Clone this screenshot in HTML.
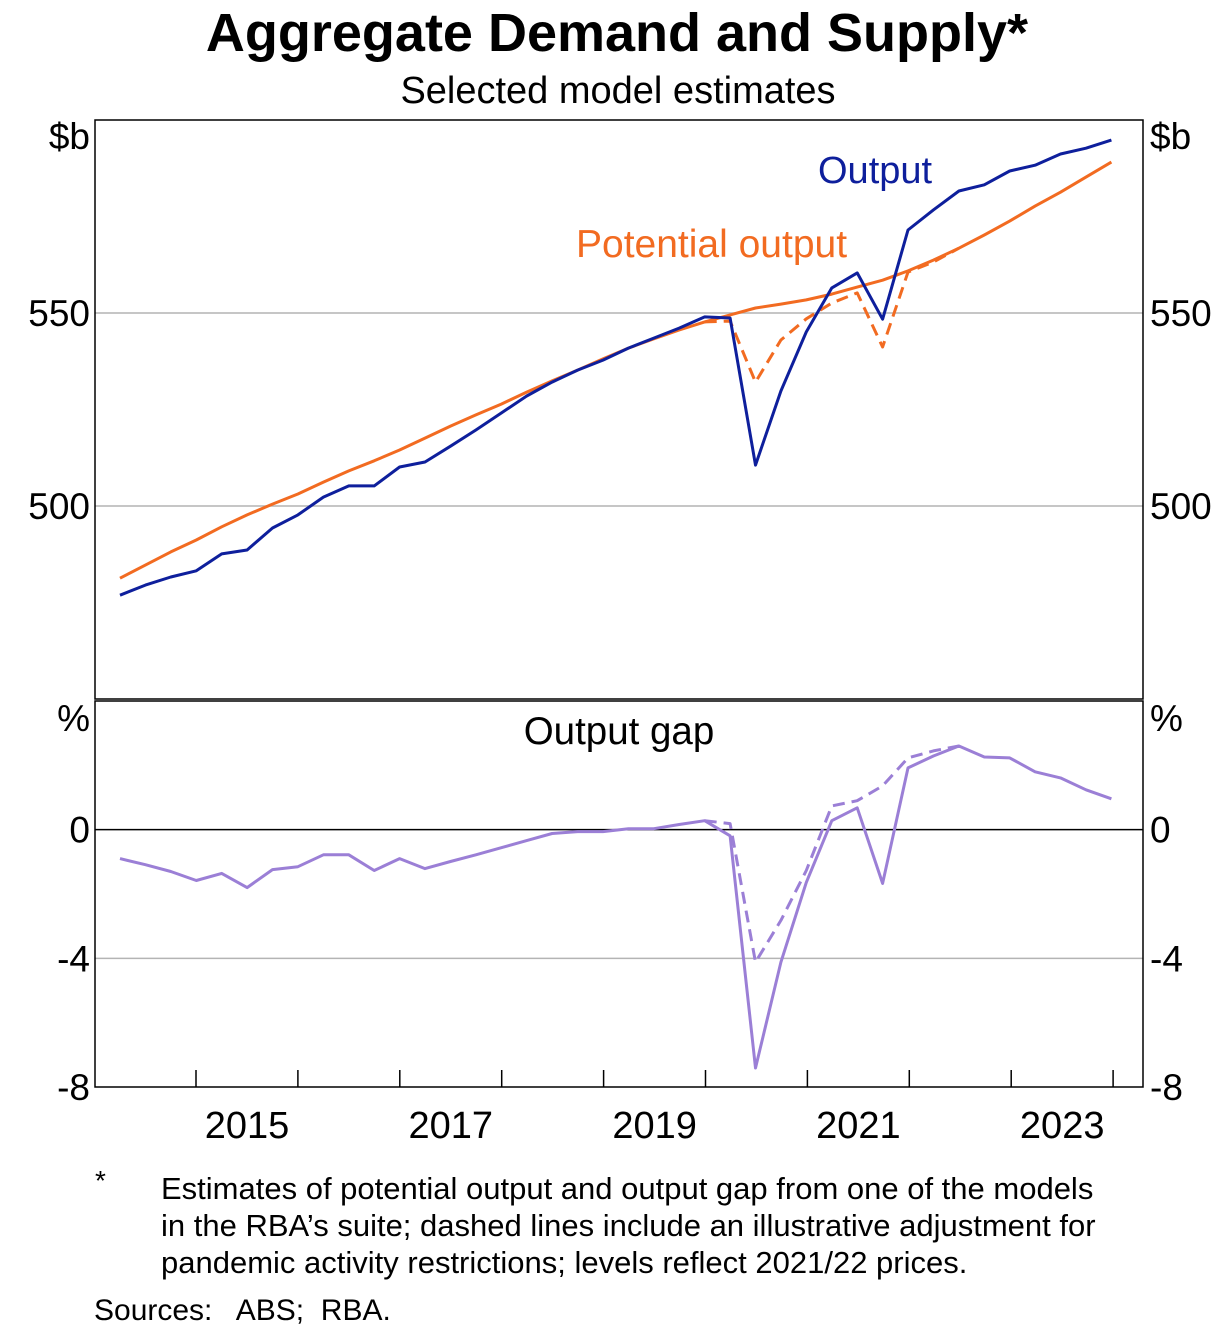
<!DOCTYPE html>
<html><head><meta charset="utf-8"><style>
body{margin:0;background:#fff;font-family:"Liberation Sans",Arial,sans-serif;}
svg text{font-family:"Liberation Sans",Arial,sans-serif;}
</style></head><body>
<svg id="chart" width="1223" height="1333" viewBox="0 0 1223 1333" xmlns="http://www.w3.org/2000/svg">
<text x="617" y="51" font-size="54" font-weight="bold" text-anchor="middle">Aggregate Demand and Supply*</text>
<text x="618" y="103" font-size="38" text-anchor="middle">Selected model estimates</text>
<g id="grid"></g>
<g id="marks"></g>
<rect x="95" y="120" width="1048" height="579" fill="none" stroke="#000" stroke-width="1.5"/>
<rect x="95" y="701" width="1048" height="386" fill="none" stroke="#000" stroke-width="1.5"/>
<g id="axes"></g>
<text x="818" y="183" font-size="38" fill="#0e1f9c">Output</text>
<text x="576" y="257" font-size="39" fill="#f26b21">Potential output</text>
<text x="619" y="744" font-size="38.5" text-anchor="middle">Output gap</text>
<text x="90" y="149" font-size="37" text-anchor="end">$b</text>
<text x="1150" y="149" font-size="37">$b</text>
<text x="90" y="731" font-size="37" text-anchor="end">%</text>
<text x="1150" y="731" font-size="37">%</text>
<text x="95" y="1190" font-size="28">*</text>
<text font-size="31"><tspan x="161" y="1199">Estimates of potential output and output gap from one of the models</tspan><tspan x="161" y="1236">in the RBA’s suite; dashed lines include an illustrative adjustment for</tspan><tspan x="161" y="1273">pandemic activity restrictions; levels reflect 2021/22 prices.</tspan></text>
<text x="94" y="1320" font-size="30" xml:space="preserve">Sources:   ABS;  RBA.</text>
</svg>
<script>
const output=[476.9,479.5,481.6,483.2,487.6,488.6,494.3,497.7,502.3,505.2,505.2,510.1,511.4,515.5,519.7,524.1,528.5,532.1,535.2,537.8,540.9,543.5,546.1,549.0,548.7,510.6,529.8,545.1,556.5,560.4,548.4,571.5,576.7,581.6,583.2,586.8,588.3,591.2,592.7,594.8];
const potential=[481.3,484.7,488.1,491.2,494.6,497.7,500.5,503.1,506.2,509.1,511.7,514.5,517.6,520.7,523.6,526.4,529.5,532.4,535.2,538.1,540.9,543.3,545.6,547.7,549.5,551.3,552.3,553.4,554.9,556.7,558.5,560.9,563.7,566.8,570.2,573.8,577.7,581.3,585.2,589.1];
const potentialAdjStart=23;
const potentialAdj=[547.7,547.9,532.1,543.0,548.5,552.6,555.2,541.2,560.6,563.2,566.8];
const gap=[-0.9,-1.09,-1.3,-1.58,-1.36,-1.8,-1.24,-1.15,-0.78,-0.78,-1.27,-0.9,-1.21,-0.99,-0.78,-0.56,-0.34,-0.12,-0.06,-0.06,0.03,0.03,0.16,0.28,-0.19,-7.41,-4.12,-1.64,0.28,0.68,-1.67,1.92,2.29,2.6,2.26,2.23,1.8,1.61,1.24,0.96];
const gapAdjStart=23;
const gapAdj=[0.28,0.19,-4.12,-2.82,-1.27,0.74,0.9,1.36,2.23,2.45,2.6];
const topTicks=[500,550];
const gapTicks=[-8,-4,0];
const years=[2015,2017,2019,2021,2023];

const NS="http://www.w3.org/2000/svg";
const x0=95,x1=1143;
const xq=i=>120+i*25.42;
const xYear=y=>196+(y-2015)*101.9;
const yTop=v=>699-(v-450)*(579/150);
const yBot=v=>1087-(v+8)*(386/12);
function mk(tag,attrs,parent){const e=document.createElementNS(NS,tag);for(const k in attrs)e.setAttribute(k,attrs[k]);parent.appendChild(e);return e;}
const grid=document.getElementById('grid'),marks=document.getElementById('marks'),axes=document.getElementById('axes');
topTicks.forEach(v=>{
 const l=mk('line',{x1:x0,x2:x1,y1:yTop(v),y2:yTop(v),stroke:'#b4b4b4','stroke-width':1.5},grid);
 
 
 [[90,'end'],[1150,'start']].forEach(([x,a])=>{const t=mk('text',{x:x,y:yTop(v)+13,'font-size':37,'text-anchor':a},axes);t.textContent=v;
 
 });
});
gapTicks.forEach(v=>{
 if(v>-8){const l=mk('line',{x1:x0,x2:x1,y1:yBot(v),y2:yBot(v),stroke:v===0?'#000':'#b4b4b4','stroke-width':1.5},grid);
 
 }
 [[90,'end'],[1150,'start']].forEach(([x,a])=>{const t=mk('text',{x:x,y:yBot(v)+13,'font-size':37,'text-anchor':a},axes);t.textContent=v;
 
 });
});
for(let y=2015;y<=2024;y++){const l=mk('line',{x1:xYear(y),x2:xYear(y),y1:1070,y2:1087,stroke:'#000','stroke-width':1.5},axes);
 
 }
years.forEach(y=>{const t=mk('text',{x:xYear(y)+51,y:1138,'font-size':38,'text-anchor':'middle'},axes);t.textContent=y;
 
 });
function line(vals,start,yf,color,dash,name){
 const pts=vals.map((v,i)=>xq(i+start).toFixed(1)+','+yf(v).toFixed(1)).join(' ');
 const p=mk('polyline',{points:pts,fill:'none',stroke:color,'stroke-width':3,'stroke-linejoin':'round'},marks);
 if(dash)p.setAttribute('stroke-dasharray','12,7');
 
 
}
line(potentialAdj,potentialAdjStart,yTop,'#f26b21',true,'potential-output-adjusted-line');
line(potential,0,yTop,'#f26b21',false,'potential-output-line');
line(output,0,yTop,'#0e1f9c',false,'output-line');
line(gapAdj,gapAdjStart,yBot,'#9b7fd6',true,'output-gap-adjusted-line');
line(gap,0,yBot,'#9b7fd6',false,'output-gap-line');
</script>
</body></html>
